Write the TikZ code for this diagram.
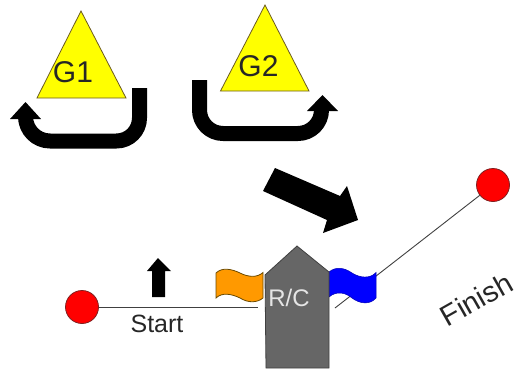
\documentclass[tikz,border=0pt]{standalone}
\usepackage{fontspec}
\setmainfont{Liberation Sans}
\definecolor{triY}{HTML}{FFFF00}
\definecolor{triE}{HTML}{6B5A20}
\definecolor{rcG}{HTML}{666666}
\definecolor{rcE}{HTML}{404040}
\definecolor{flagO}{HTML}{FF9900}
\definecolor{flagOE}{HTML}{6B4A00}
\definecolor{flagB}{HTML}{0000FF}
\definecolor{dotR}{HTML}{FF0000}
\definecolor{dotE}{HTML}{802020}
\definecolor{lineC}{HTML}{404040}
\tikzset{
  tri/.style={fill=triY,draw=triE,line width=0.8pt,line join=miter},
  blk/.style={fill=black,draw=none},
  dot/.style={circle,fill=dotR,draw=dotE,line width=0.8pt,minimum size=33pt,inner sep=0pt},
  course/.style={draw=lineC,line width=0.9pt},
  lab/.style={inner sep=0pt,anchor=base,text=black!85,font=\fontsize{25}{25}\selectfont},
  biglab/.style={lab,font=\fontsize{30}{30}\selectfont},
  turn/.style={draw=black,line width=15pt,line join=round}
}
\begin{document}
\begin{tikzpicture}[x=1pt,y=-1pt]
\useasboundingbox (0,0) rectangle (519,370);
% triangles
\draw[tri] (81,11) -- (126,98) -- (37,98) -- cycle;
\draw[tri] (265,5) -- (309,91) -- (220.5,91) -- cycle;
\node[biglab] (g1) at (73,82) {G1};
\node[biglab] (g2) at (258.5,76.5) {G2};
% U-turn arrows
\draw[turn] (139.5,88) -- (139.5,118) arc[start angle=0,end angle=90,radius=23] -- (50,141) arc[start angle=90,end angle=180,radius=24.5] -- (25.5,118);
\fill[blk] (25.5,102) -- (41,119) -- (10,119) -- cycle;
\draw[turn] (199.5,80) -- (199.5,110) arc[start angle=180,end angle=90,radius=23.5] -- (298,133.5) arc[start angle=90,end angle=0,radius=23.5] -- (321.5,109);
\fill[blk] (322.5,95) -- (338,111) -- (307,111) -- cycle;
% wind arrow
\fill[blk] (275,168) -- (340,196) -- (347,186) -- (358,220) -- (323,233) -- (327,220) -- (263,191) -- cycle;
% course lines
\node[dot] (startdot) at (82,307) {};
\node[dot] (finishdot) at (493,185) {};
\coordinate (startend) at (258,307);
\coordinate (finishend) at (335,308);
\draw[course] (startdot) -- (startend);
\draw[course] (finishdot) -- (finishend);
% up arrow
\fill[blk] (158,258) -- (171,271) -- (165,271) -- (165,297) -- (152,297) -- (152,271) -- (147,271) -- cycle;
\node[lab] (start) at (157,332) {Start};
% flags
\draw[fill=flagO,draw=flagOE,line width=0.8pt] (216,273) .. controls (222,267) and (232,269) .. (240,273) .. controls (248,277) and (257,278) .. (263,272.5) -- (263,298) .. controls (257,303) and (248,303) .. (240,298) .. controls (232,294) and (222,292) .. (216,298) -- cycle;
\draw[fill=flagB,draw=flagB!70!black,line width=0.5pt] (329,272) .. controls (336,266) and (345,268) .. (352,273) .. controls (360,278) and (370,279) .. (376,272.5) -- (376,298) .. controls (370,305) and (360,304) .. (352,298) .. controls (345,292) and (336,291) .. (329,297) -- cycle;
% committee boat
\draw[fill=rcG,draw=rcE,line width=0.8pt] (297,246) -- (329,272) -- (329,368) -- (266,368) -- (265,275) -- cycle;
\node[lab,text=white!90!black,font=\fontsize{24}{24}\selectfont] (rc) at (289,306) {R/C};
% finish label
\node[lab,rotate=29.5,font=\fontsize{29}{29}\selectfont] (finish) at (481.5,308.5) {Finish};
\end{tikzpicture}
\end{document}
